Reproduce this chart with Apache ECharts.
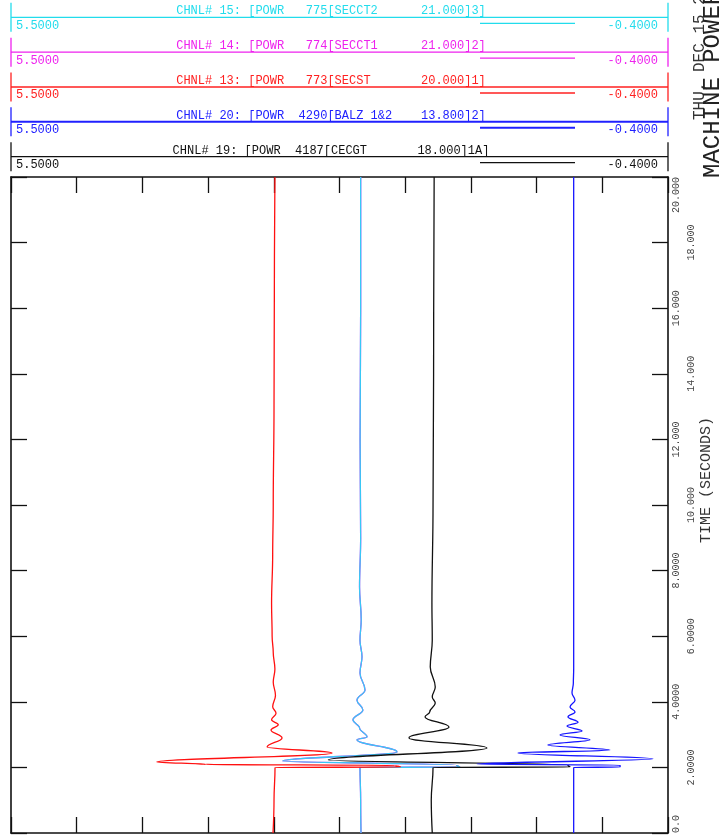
<!DOCTYPE html>
<html>
<head>
<meta charset="utf-8">
<script src="https://cdn.jsdelivr.net/npm/echarts@6/dist/echarts.min.js"></script>
<style>
html,body{margin:0;padding:0;background:#fff;}
#main{width:727px;height:838px;}
</style>
</head>
<body>
<div id="main"></div>
<script>
// channel headers (top to bottom)
var chnlTitles = [
	'CHNL# 15: [POWR   775[SECCT2      21.000]3]',
	'CHNL# 14: [POWR   774[SECCT1      21.000]2]',
	'CHNL# 13: [POWR   773[SECST       20.000]1]',
	'CHNL# 20: [POWR  4290[BALZ 1&2    13.800]2]',
	'CHNL# 19: [POWR  4187[CECGT       18.000]1A]'
];
var chnlColors = ['#22dcec', '#ee22ee', '#ff2020', '#2020ff', '#111111'];
var scaleLabels = ['5.5000', '-0.4000'];
var timeLabels = ['0.0', '2.0000', '4.0000', '6.0000', '8.0000', '10.000', '12.000', '14.000', '16.000', '18.000', '20.000'];

// [time s, power]
var secstPowr = [ // chnl 13
	[0, 3.147], [1.0, 3.138], [2.0, 3.129], [2.01, 2.0], [2.06, 2.05], [2.09, 3.75], [2.165, 4.19],
	[2.44, 2.617], [2.62, 3.20], [2.90, 3.066], [3.14, 3.165], [3.30, 3.10], [3.45, 3.16], [3.65, 3.12],
	[3.85, 3.15], [4.2, 3.125], [4.6, 3.145], [5.0, 3.13], [5.5, 3.145], [6.0, 3.155], [7.0, 3.16],
	[8.5, 3.15], [10, 3.145], [13, 3.138], [16.5, 3.135], [20, 3.13]
];
var secctPowr = [ // chnl 14 and 15 lie on top of each other
	[0, 2.357], [1.0, 2.36], [2.0, 2.366], [2.01, 1.47], [2.07, 1.5], [2.195, 3.06], [2.47, 2.034],
	[2.84, 2.393], [2.93, 2.303], [3.2, 2.37], [3.45, 2.429], [3.75, 2.34], [4.05, 2.393], [4.36, 2.321],
	[4.88, 2.366], [5.37, 2.348], [5.88, 2.366], [6.5, 2.355], [7.5, 2.37], [9, 2.36], [12, 2.365],
	[16, 2.36], [20, 2.36]
];
var balzPowr = [ // chnl 20
	[0, 0.447], [2.0, 0.447], [2.01, 0.03], [2.07, 0.031], [2.10, 1.315], [2.26, -0.265], [2.44, 0.947],
	[2.53, 0.121], [2.68, 0.678], [2.84, 0.301], [2.99, 0.570], [3.11, 0.372], [3.26, 0.507], [3.38, 0.408],
	[3.54, 0.498], [3.69, 0.435], [3.84, 0.480], [4.05, 0.435], [4.27, 0.462], [4.57, 0.450], [5.0, 0.447],
	[20, 0.447]
];
var cecgtPowr = [ // chnl 19
	[0, 1.717], [1.0, 1.726], [2.0, 1.71], [2.01, 0.48], [2.07, 0.5], [2.226, 2.65], [2.59, 1.226],
	[2.90, 1.926], [3.23, 1.567], [3.54, 1.782], [3.69, 1.74], [3.96, 1.69], [4.15, 1.717], [4.45, 1.69],
	[5.06, 1.735], [5.88, 1.717], [7, 1.72], [10, 1.71], [14, 1.705], [20, 1.70]
];

var chart = echarts.init(document.getElementById('main'));
var mono = 'Liberation Mono';

function toXY(arr){
	return arr.map(function(p){ return [p[1], p[0]]; });
}

// header blocks
var graphics = [];
$each = function(a, f){ for (var i = 0; i < a.length; i++) f(i, a[i]); };
$each(chnlTitles, function(i, title){
	var yl = 17.3 + 34.85 * i, c = chnlColors[i], w = (i == 3) ? 2 : 1.3;
	graphics.push({type:'line', shape:{x1:11, y1:yl, x2:668, y2:yl}, style:{stroke:c, lineWidth:w}});
	graphics.push({type:'line', shape:{x1:11, y1:yl - 14.5, x2:11, y2:yl + 14.5}, style:{stroke:c, lineWidth:1.3}});
	graphics.push({type:'line', shape:{x1:668, y1:yl - 14.5, x2:668, y2:yl + 14.5}, style:{stroke:c, lineWidth:1.3}});
	graphics.push({type:'line', shape:{x1:480, y1:yl + 6, x2:575, y2:yl + 6}, style:{stroke:c, lineWidth:w}});
	graphics.push({type:'text', x:331, y:yl - 6, style:{text:title, fill:c, font:'12px ' + mono, align:'center', verticalAlign:'middle'}});
	graphics.push({type:'text', x:16, y:yl + 8.3, style:{text:scaleLabels[0], fill:c, font:'12px ' + mono, align:'left', verticalAlign:'middle'}});
	graphics.push({type:'text', x:658, y:yl + 8.3, style:{text:scaleLabels[1], fill:c, font:'12px ' + mono, align:'right', verticalAlign:'middle'}});
});
// rotated titles on the right
graphics.push({type:'text', x:700, y:120, rotation:Math.PI / 2, style:{text:'THU, DEC 15 2016  15:32', fill:'#333', font:'16px ' + mono, align:'left', verticalAlign:'middle'}});
graphics.push({type:'text', x:713, y:178, rotation:Math.PI / 2, style:{text:'MACHINE POWER', fill:'#222', font:'24px ' + mono, align:'left', verticalAlign:'middle'}});
graphics.push({type:'text', x:706, y:480, rotation:Math.PI / 2, style:{text:'TIME (SECONDS)', fill:'#333', font:'15px ' + mono, align:'center', verticalAlign:'middle'}});

var tickAxis = function(pos){
	return {
		type:'value', position:pos, min:0, max:10, interval:1,
		axisLine:{show:true, onZero:false, lineStyle:{color:'#111', width:1.6}},
		axisTick:{show:true, inside:true, length:16, lineStyle:{color:'#111', width:1.3}},
		axisLabel:{show:false}, splitLine:{show:false}
	};
};
var timeAxis = function(pos, labels){
	return {
		type:'value', position:pos, min:0, max:20, interval:2,
		axisLine:{show:true, onZero:false, lineStyle:{color:'#111', width:1.6}},
		axisTick:{show:true, inside:true, length:16, lineStyle:{color:'#111', width:1.3}},
		axisLabel:{
			show:labels, rotate:90, margin:3, color:'#444', fontFamily:mono, fontSize:10,
			alignMinLabel:'left', alignMaxLabel:'right',
			formatter:function(v){
				var k = Math.round(v / 2);
				return (k % 2 == 0 ? '{a|' : '{b|') + timeLabels[k] + '}';
			},
			rich:{a:{lineHeight:10, fontFamily:mono, fontSize:10, color:'#444'}, b:{lineHeight:40, fontFamily:mono, fontSize:10, color:'#444'}}
		},
		splitLine:{show:false}
	};
};

var lineSeries = function(name, data, color, width){
	return {
		name:name, type:'line', xAxisIndex:0, yAxisIndex:0, data:toXY(data),
		showSymbol:false, symbol:'none', smooth:0.4, smoothMonotone:'y',
		lineStyle:{color:color, width:width}, silent:true
	};
};

var options = {
	animation:false,
	grid:{left:11, top:177, width:657, height:656},
	xAxis:[
		{type:'value', min:-0.4, max:5.5, inverse:true, show:false},
		tickAxis('top'),
		tickAxis('bottom')
	],
	yAxis:[timeAxis('left', false), timeAxis('right', true)],
	series:[
		lineSeries('CHNL# 14', secctPowr, '#ee22ee', 1.3),
		lineSeries('CHNL# 15', secctPowr, '#38c8f5', 1.3),
		lineSeries('CHNL# 13', secstPowr, '#ff1010', 1.3),
		lineSeries('CHNL# 19', cecgtPowr, '#111111', 1.3),
		lineSeries('CHNL# 20', balzPowr, '#1515ff', 1.3)
	],
	graphic:graphics
};
chart.setOption(options);
</script>
</body>
</html>
